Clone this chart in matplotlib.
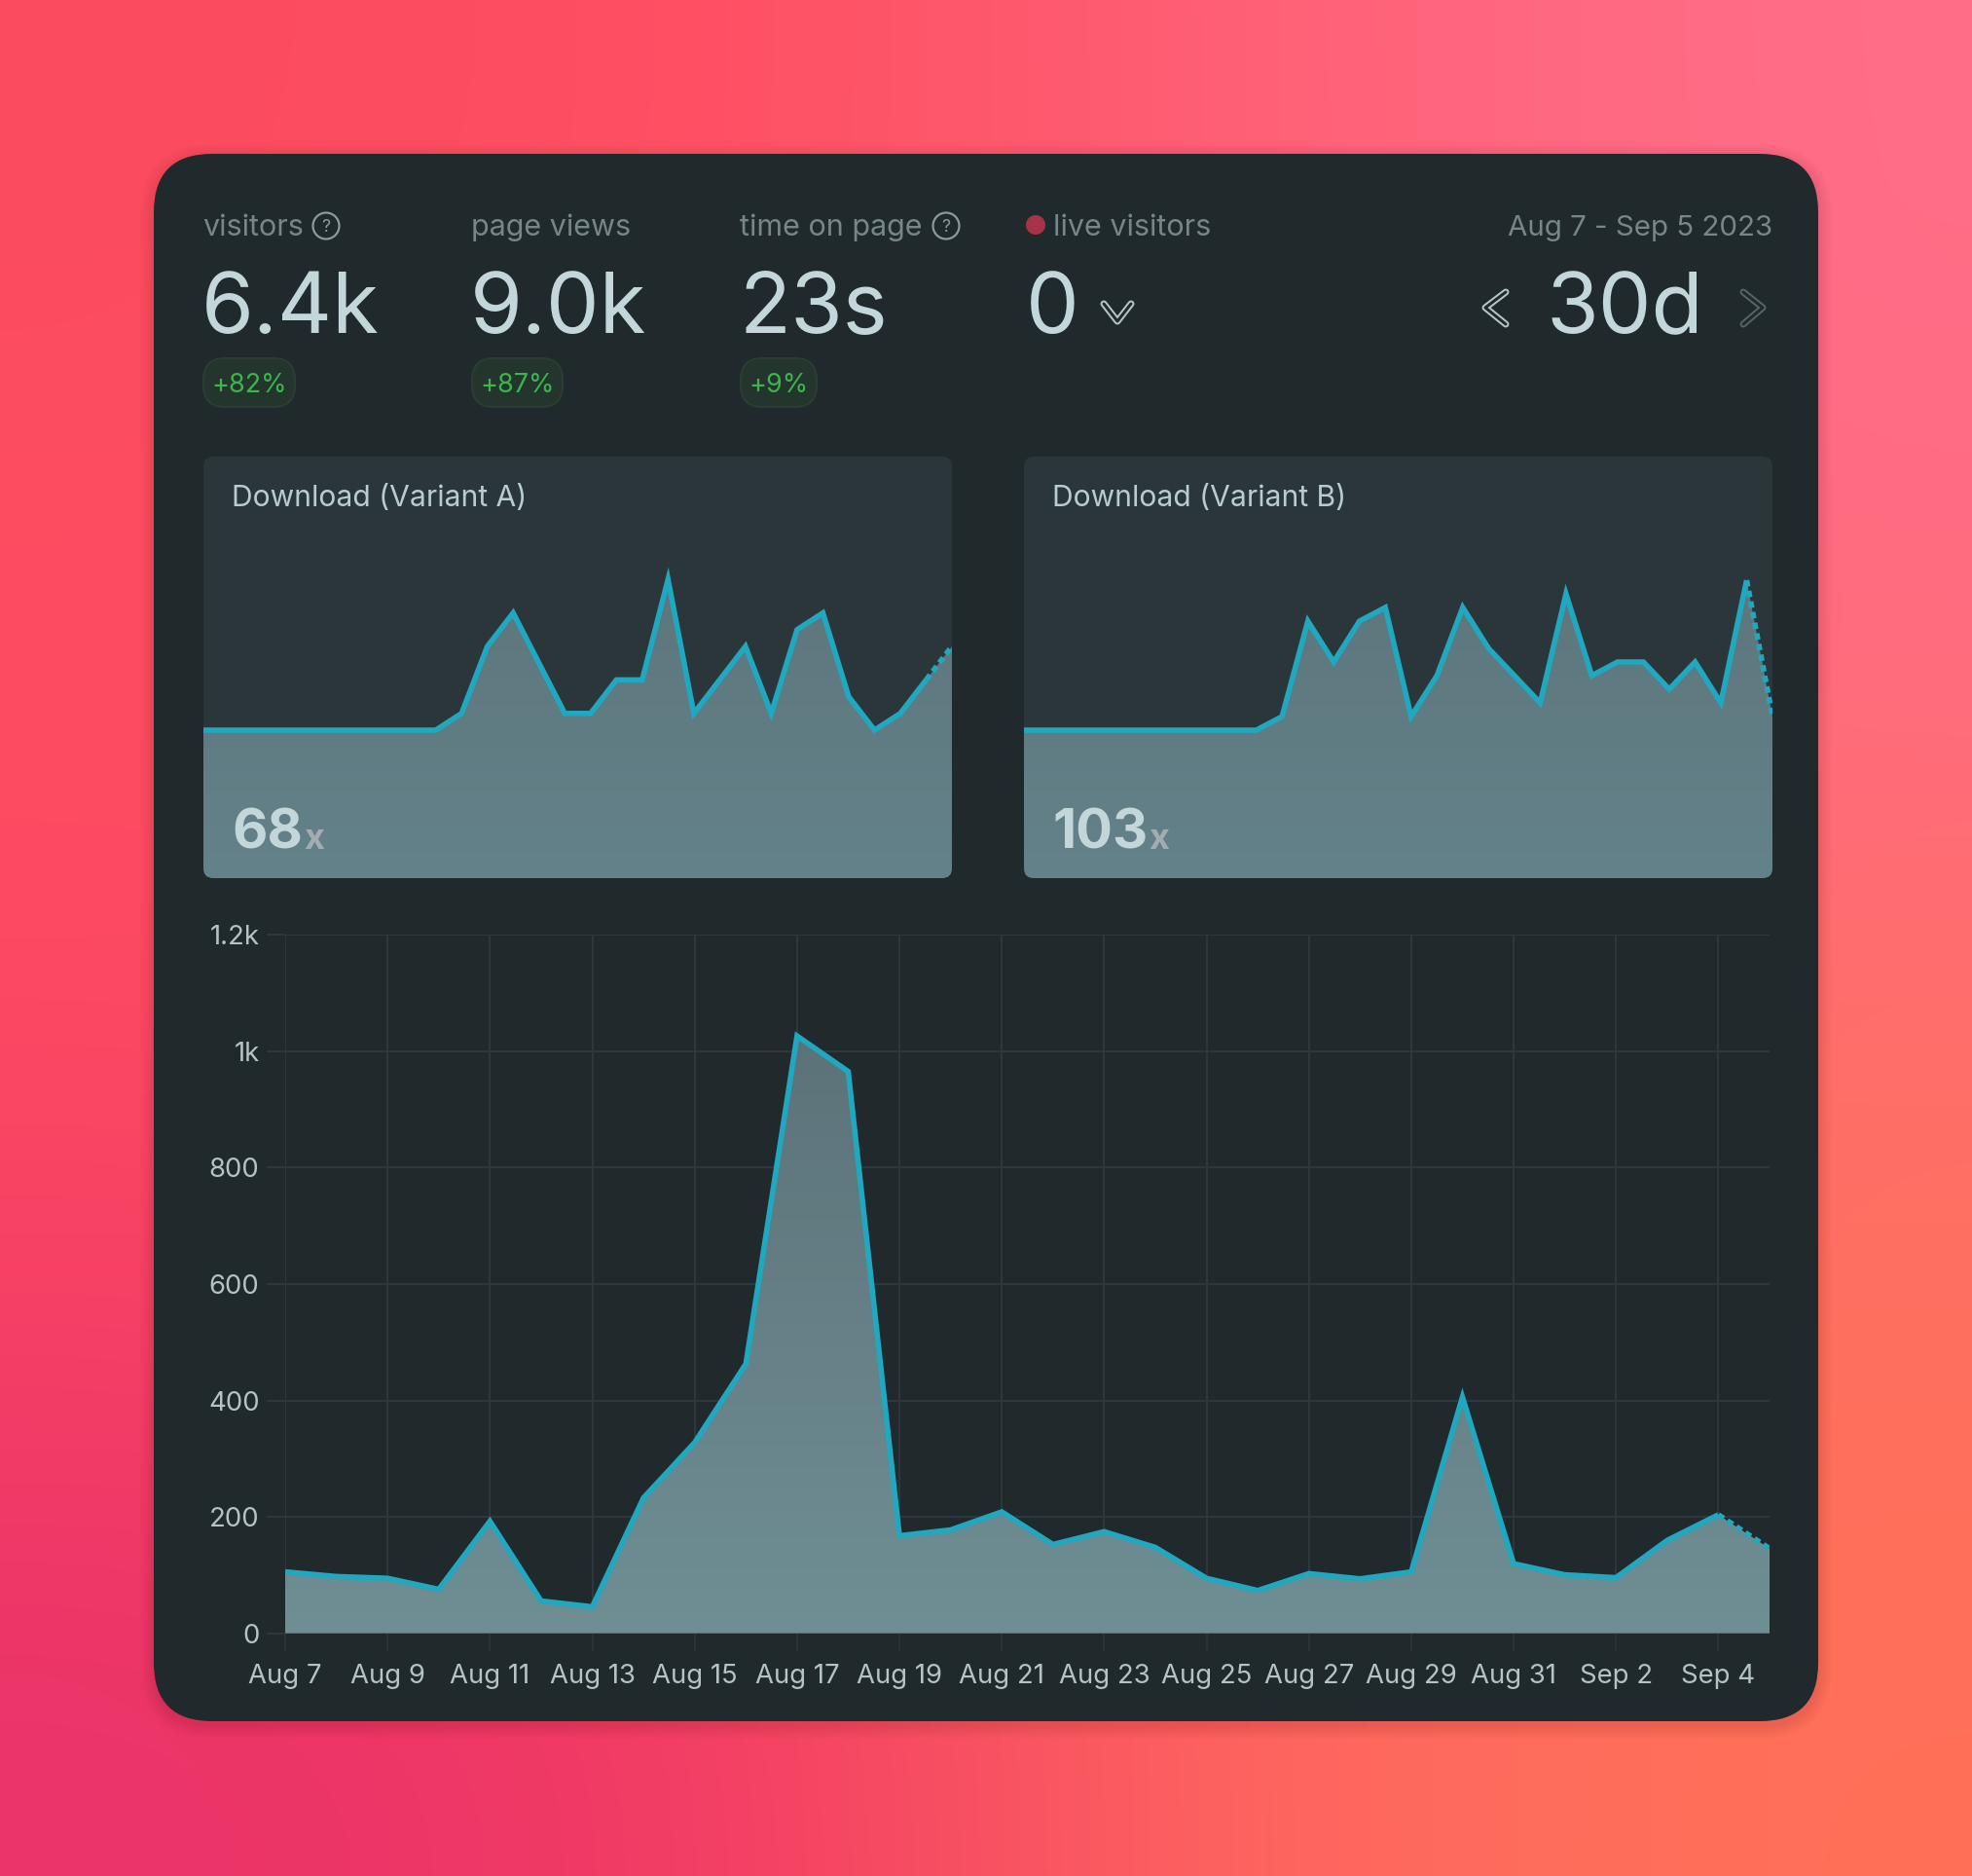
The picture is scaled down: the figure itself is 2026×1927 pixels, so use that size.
import numpy as np
import matplotlib
matplotlib.use("Agg")
import matplotlib.pyplot as plt
from matplotlib.patches import FancyBboxPatch, Circle, PathPatch
from matplotlib.path import Path
from matplotlib.colors import to_rgb

W, H = 2026, 1927
DPI = 100
plt.rcParams['font.family'] = ['Inter', 'DejaVu Sans']

# ---------- data ----------
days = ["Aug 7","Aug 8","Aug 9","Aug 10","Aug 11","Aug 12","Aug 13","Aug 14","Aug 15","Aug 16",
        "Aug 17","Aug 18","Aug 19","Aug 20","Aug 21","Aug 22","Aug 23","Aug 24","Aug 25","Aug 26",
        "Aug 27","Aug 28","Aug 29","Aug 30","Aug 31","Sep 1","Sep 2","Sep 3","Sep 4","Sep 5"]
total_views = [106,98,95,76,193,56,46,233,328,463,1026,965,168,178,209,153,175,148,95,74,
               103,94,106,406,120,101,96,160,204,146]
variant_a = [0,0,0,0,0,0,0,0,0,0,1,5,7,4,1,1,3,3,9,1,3,5,1,6,7,2,0,1,3,5]
variant_b = [0,0,0,0,0,0,0,0,0,0,1,8,5,8,9,1,4,9,6,4,2,10,4,5,5,3,5,2,11,1]
y_ticks = [0,200,400,600,800,1000,1200]
y_labels = ["0","200","400","600","800","1k","1.2k"]
stats = [("visitors","6.4k","+82%"),("page views","9.0k","+87%"),("time on page","23s","+9%")]

# ---------- colours ----------
CARD = "#20292b"; PANEL = "#2a3639"; LINE = "#1fa8c0"; GRID = "#2e363e"
BIG = "#c3d6da"; MUTED = "#76868a"; TICK = "#b4c3c5"

fig = plt.figure(figsize=(W/DPI, H/DPI), dpi=DPI)

def rect(x0, y0, x1, y1):
    return [x0/W, 1-y1/H, (x1-x0)/W, (y1-y0)/H]

bg = fig.add_axes([0,0,1,1], zorder=0); bg.set_xlim(0,W); bg.set_ylim(H,0); bg.axis("off")
top = fig.add_axes([0,0,1,1], zorder=10); top.set_xlim(0,W); top.set_ylim(H,0); top.axis("off"); top.patch.set_alpha(0)

# background gradient
grid_hex = [["#fb4b5f","#ff4f62","#ff6076","#ff6e88"],
            ["#ff4e62","#ff5064","#ff6070","#ff6c80"],
            ["#fc4563","#fa4a60","#ff6a62","#ff7060"],
            ["#ea3369","#f23a64","#ff6860","#ff7058"]]
grad = np.array([[to_rgb(c) for c in r] for r in grid_hex])
bg.imshow(grad, extent=(0,W,H,0), aspect="auto", interpolation="bicubic", zorder=0)
bg.set_xlim(0,W); bg.set_ylim(H,0)

def rrect(ax, x0, y0, x1, y1, r, **kw):
    p = FancyBboxPatch((x0+r,y0+r), x1-x0-2*r, y1-y0-2*r, boxstyle=f"round,pad={r},rounding_size={r}", **kw)
    ax.add_patch(p)
    return p

# soft shadow and card
for g in range(14, 0, -2):
    rrect(bg, 158-g, 158-g+4, 1868+g, 1768+g+4, 60+g, fc="#000000", ec="none", alpha=0.012, zorder=1)
rrect(bg, 158, 158, 1868, 1768, 60, fc=CARD, ec="none", zorder=2)

def T(ax, x, y, s, px, color, ha="left", va="baseline", **kw):
    return ax.text(x, y, s, fontsize=px*72/DPI, color=color, ha=ha, va=va, **kw)

# header stats
cols = [209, 485, 761]
for (lab, val, delta), x in zip(stats, cols):
    T(bg, x-1, 242, lab, 30.5, MUTED, zorder=5)
    T(bg, x-2, 342, val, 87, BIG, zorder=5)
for x, w, delta in zip(cols, [94, 93, 78], ["+82%","+87%","+9%"]):
    rrect(bg, x, 368, x+w, 418, 22, fc="#24352d", ec="#2b3d33", lw=1.5, zorder=4)
    T(bg, x+w/2, 393, delta, 27, "#3cb54d", ha="center", va="center_baseline", zorder=5)
for cx in [335, 972]:
    bg.add_patch(Circle((cx,232), 13.5, fc="none", ec="#8a9a9d", lw=1.6, zorder=5))
    T(bg, cx, 232, "?", 18, "#8a9a9d", ha="center", va="center_baseline", zorder=5)
bg.add_patch(Circle((1064,231), 10, fc="#a8324a", ec="none", zorder=5))
T(bg, 1082, 242, "live visitors", 30.5, MUTED, zorder=5)
T(bg, 1054, 342, "0", 87, BIG, zorder=5)
T(bg, 1821, 242, "Aug 7 - Sep 5 2023", 29.5, MUTED, ha="right", zorder=5)
T(bg, 1750, 342, "30d", 87, BIG, ha="right", zorder=5)

def chev(pts, color, w):
    xs, ys = zip(*pts)
    bg.plot(xs, ys, color=color, lw=w*72/DPI, solid_capstyle="round", solid_joinstyle="round", zorder=5)
    bg.plot(xs, ys, color=CARD, lw=(w-4)*72/DPI, solid_capstyle="round", solid_joinstyle="round", zorder=6)
chev([(1134,312),(1148,330),(1162,312)], "#b4c6c9", 7)
chev([(1547,300),(1526,316),(1547,333)], "#b4c6c9", 7)
chev([(1791,300),(1811,316),(1791,333)], "#55646a", 7)

# variant panels
panels = [(209, 978, variant_a, "Download (Variant A)", "68", 17.2),
          (1052, 1821, variant_b, "Download (Variant B)", "103", 14.0)]
P_T, P_B, P_BASE, PR = 469, 902, 750, 10

def grad_fill(ax, x, y, base, c_top, c_bot, extent_y=(0,1)):
    poly = ax.fill_between(x, y, base, color="none", lw=0)
    t = np.linspace(0,1,256)[:,None,None]
    g = t*np.array(to_rgb(c_bot))[None,None,:] + (1-t)*np.array(to_rgb(c_top))[None,None,:]
    im = ax.imshow(g, extent=(0,1,extent_y[0],extent_y[1]), transform=ax.transAxes, aspect="auto", zorder=1, origin="upper")
    im.set_clip_path(poly.get_paths()[0], transform=ax.transData)
    return im

for x0, x1, vals, title, total, unit in panels:
    rrect(bg, x0, P_T, x1, P_B, PR, fc=PANEL, ec="none", zorder=3)
    ax = fig.add_axes(rect(x0, P_T, x1, P_B), zorder=2)
    ax.patch.set_alpha(0); ax.axis("off")
    xs = np.arange(len(vals))
    lo = -(P_B-P_BASE)/unit; hi = (P_BASE-P_T)/unit
    grad_fill(ax, xs, vals, lo, "#5d767c", "#64828a", extent_y=(0,0.72))
    ax.plot(xs[:-1], vals[:-1], color=LINE, lw=4, solid_joinstyle="miter", solid_capstyle="butt", zorder=3)
    ax.plot(xs[-2:], vals[-2:], color=LINE, lw=4, ls=(0,(1.2,0.8)), zorder=3)
    ax.set_xlim(0,len(vals)-1); ax.set_ylim(lo,hi)
    T(top, x0+29, 520, title, 30, "#b9cccf")
    t = T(top, x0+29, 872, total, 56, BIG, fontweight="bold")
    fig.canvas.draw()
    bb = t.get_window_extent()
    T(top, bb.x1+1, 872, "x", 36, "#a3acb3", fontweight="bold")
    # rounded bottom corners of the panel
    for cx, sgn in ((x0,1),(x1,-1)):
        v = [(cx,P_B),(cx,P_B-PR),(cx,P_B-PR),(cx,P_B),(cx+sgn*PR,P_B),(cx,P_B)]
        c = [Path.MOVETO,Path.LINETO,Path.LINETO,Path.CURVE3,Path.CURVE3,Path.CLOSEPOLY]
        top.add_patch(PathPatch(Path(v,c), fc=CARD, ec="none"))

# main chart
ax = fig.add_axes(rect(293, 960, 1818, 1678), zorder=2)
ax.patch.set_alpha(0)
xs = np.arange(len(days))
grad_fill(ax, xs, total_views, 0, "#5c7279", "#6f8f94", extent_y=(0,0.86))
ax.plot(xs[:-1], total_views[:-1], color=LINE, lw=4, solid_joinstyle="miter", solid_capstyle="butt", zorder=3)
ax.plot(xs[-2:], total_views[-2:], color=LINE, lw=4, ls=(0,(1.2,0.8)), zorder=3)
ax.axhline(0, color="#5b6f77", lw=1.5, zorder=4)
ax.set_xlim(0, len(days)-1); ax.set_ylim(0, 1200)
ax.set_xticks(xs[::2], days[::2])
ax.set_yticks(y_ticks, y_labels)
ax.grid(True, color=GRID, lw=1.5, zorder=0)
ax.set_axisbelow(True)
for s in ax.spines.values():
    s.set_visible(False)
ax.tick_params(axis="x", length=13, width=1.2, color=GRID, pad=9, labelsize=27.5*72/DPI, labelcolor=TICK)
ax.tick_params(axis="y", length=14, width=1.5, color=GRID, pad=5, labelsize=27.5*72/DPI, labelcolor=TICK)

fig.savefig("out.png", dpi=DPI)
